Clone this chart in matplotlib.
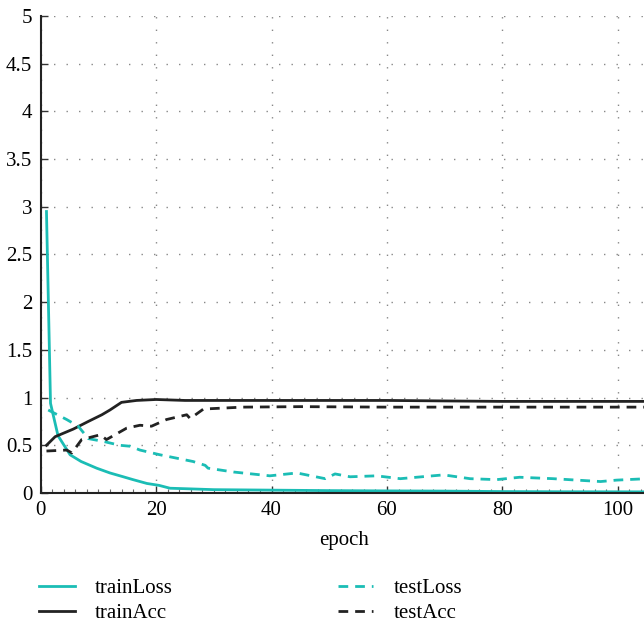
import matplotlib.pyplot as plt
from matplotlib.ticker import MultipleLocator

# values
train_loss_ep = [1, 1.7, 3, 5.1, 7, 9.7, 12, 14.3, 16, 18.4, 20.5, 22.4, 25, 30, 40, 50, 60, 70, 80, 90, 105]
train_loss = [2.95, 0.94, 0.6, 0.40, 0.33, 0.26, 0.21, 0.17, 0.14, 0.10, 0.08, 0.05, 0.045, 0.035, 0.03, 0.025, 0.022, 0.02, 0.015, 0.013, 0.012]

train_acc_ep = [1, 2.5, 5.65, 8.25, 10.6, 12, 14, 16.6, 20, 25, 40, 60, 80, 100, 105]
train_acc = [0.50, 0.59, 0.67, 0.75, 0.82, 0.87, 0.95, 0.97, 0.98, 0.97, 0.97, 0.97, 0.96, 0.96, 0.96]

test_loss_ep = [1.3, 4.5, 6.5, 8.25, 10.9, 13.7, 15.5, 17.2, 20.7, 26.4, 28.5, 29, 33.4, 39.7, 44.4, 49.3,
                51, 53.6, 58.2, 62.3, 69.8, 74.4, 79, 83, 88.8, 97, 99.8, 105]
test_loss = [0.87, 0.77, 0.70, 0.57, 0.54, 0.50, 0.49, 0.45, 0.40, 0.33, 0.29, 0.26, 0.22, 0.18, 0.21, 0.15,
             0.20, 0.17, 0.18, 0.15, 0.19, 0.15, 0.14, 0.165, 0.15, 0.12, 0.135, 0.15]

test_acc_ep = [1, 4.5, 5.4, 7.1, 10.3, 11.4, 14.9, 17.2, 19.2, 21.8, 25.3, 25.9, 28.2, 35, 45, 60, 80, 105]
test_acc = [0.44, 0.45, 0.42, 0.56, 0.61, 0.56, 0.68, 0.71, 0.70, 0.77, 0.82, 0.78, 0.88, 0.90, 0.905, 0.90, 0.90, 0.90]

cyan = "#1bbdb5"
dark = "#222222"

plt.rcParams['font.family'] = ['Liberation Serif', 'DejaVu Serif']
plt.rcParams['font.size'] = 15

fig = plt.figure(figsize=(6.44, 6.22), dpi=100)
ax = fig.add_axes([0.0632, 0.2074, 0.941, 0.767])

l1, = ax.plot(train_loss_ep, train_loss, color=cyan, lw=2, label="trainLoss")
l2, = ax.plot(train_acc_ep, train_acc, color=dark, lw=2, label="trainAcc")
l3, = ax.plot(test_loss_ep, test_loss, color=cyan, lw=2, ls=(0, (3.5, 2.5)), label="testLoss")
l4, = ax.plot(test_acc_ep, test_acc, color=dark, lw=2, ls=(0, (3.5, 2.5)), label="testAcc")

ax.set_xlim(0, 105)
ax.set_ylim(0, 5)
ax.xaxis.set_major_locator(MultipleLocator(20))
ax.xaxis.set_minor_locator(MultipleLocator(2))
ax.yaxis.set_major_locator(MultipleLocator(0.5))
ax.yaxis.set_major_formatter(plt.FuncFormatter(lambda v, p: f"{v:g}"))
ax.tick_params(which="major", direction="in", length=5, width=1, color="#333333", pad=6)
ax.tick_params(which="minor", axis="x", direction="in", length=3, width=0.8, color="#666666")
ax.tick_params(axis="y", which="minor", left=False)

for s in ["top", "right"]:
    ax.spines[s].set_visible(False)
for s in ["left", "bottom"]:
    ax.spines[s].set_linewidth(1.5)
    ax.spines[s].set_color("#222222")

ax.grid(True, which="major", linestyle=(0, (1, 8)), color="#888888", linewidth=1)
ax.set_axisbelow(True)
ax.set_xlabel("epoch", labelpad=8)

fig.legend(handles=[l1, l2, l3, l4], ncol=2, loc="lower left", bbox_to_anchor=(0.032, -0.032),
           frameon=False, handlelength=1.7, handletextpad=0.95, columnspacing=7.95,
           labelspacing=0.25)

fig.savefig("out.png", dpi=100)
